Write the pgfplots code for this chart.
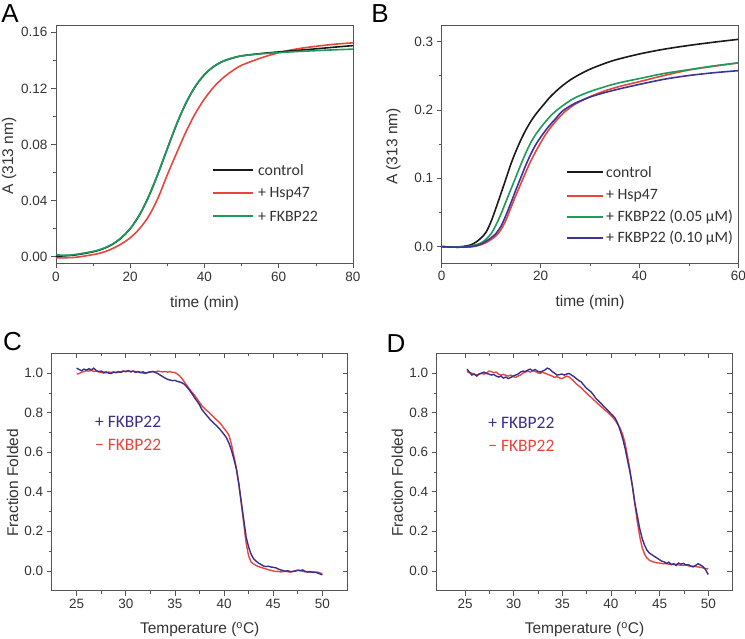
\documentclass[border=0pt]{standalone}
\usepackage{pgfplots}
\pgfplotsset{compat=1.18}
\usepackage{fontspec}
\setmainfont{Liberation Sans}
\newfontfamily\calib{Carlito}
\definecolor{frame}{HTML}{555555}
\definecolor{tickc}{HTML}{333333}
\definecolor{cblack}{HTML}{1A1A1A}
\definecolor{cred}{HTML}{E8453C}
\definecolor{cgreen}{HTML}{1E9A5A}
\definecolor{cpurple}{HTML}{3C3497}
\definecolor{cblue}{HTML}{3B2F8C}
\newcommand\tfont{\fontsize{13.5}{16}\selectfont}
\newcommand\lfont{\fontsize{15.5}{18}\selectfont}
\newcommand\gfont{\calib\fontsize{15.8}{18}\selectfont}
\newcommand\hfont{\calib\fontsize{17.5}{20}\selectfont}
\newcommand\pfont{\fontsize{26}{30}\selectfont}
\pgfplotsset{
 panel/.style={scale only axis, anchor=south west, clip=false,
  axis line style={draw=frame, line width=0.7pt},
  every tick/.style={draw=frame, line width=0.7pt},
  major tick length=5pt, minor tick length=3pt,
  tick align=outside, xtick pos=left, ytick pos=left,
  tick label style={font=\tfont, text=tickc},
  label style={font=\lfont, text=tickc},
  /pgf/number format/assume math mode=true,
  minor x tick num=1, minor y tick num=1},
 overlay/.style={scale only axis, anchor=south west,
  axis line style={draw=frame, line width=0.7pt},
  every tick/.style={draw=frame, line width=0.7pt},
  major tick length=5pt, minor tick length=3pt,
  tick align=inside, xtick pos=right, ytick pos=right,
  xticklabels={}, yticklabels={},
  minor x tick num=1, minor y tick num=1},
 kin/.style={line width=1.6pt, smooth},
 melt/.style={line width=1.4pt}
}
\begin{document}
\begin{tikzpicture}
\useasboundingbox (0pt,0pt) rectangle (745pt,-639pt);
% ---------------- Panel A
\begin{axis}[panel, at={(56pt,-263.3pt)}, width=297pt, height=238.3pt,
 xmin=0, xmax=80, ymin=-0.0047, ymax=0.1652,
 xtick={0,20,40,60,80}, ytick={0,0.04,0.08,0.12,0.16},
 yticklabel style={/pgf/number format/.cd, fixed, fixed zerofill, precision=2},
 xlabel={time (min)}, ylabel={A (313 nm)},
 xlabel style={at={(axis description cs:0.5,-0.168)}, anchor=center},
 ylabel style={at={(axis description cs:-0.158,0.45)}, anchor=center}]
\addplot[cred, kin] table {
0 -0.0008
5 -0.0005
10 0.0015
12.5 0.0030
15 0.0055
17.5 0.0090
20 0.0135
22.5 0.0200
25 0.0290
27.5 0.0420
30 0.0585
32.5 0.0740
35 0.0890
37.5 0.1020
40 0.1125
42.5 0.1210
45 0.1275
47.5 0.1325
50 0.1365
55 0.1415
60 0.1455
65 0.1482
70 0.1500
75 0.1515
80 0.1525
};
\addplot[cblack, kin] table {
0 0.0003
5 0.0012
10 0.0035
12.5 0.0055
15 0.0085
17.5 0.0132
20 0.0200
22.5 0.0298
25 0.0431
27.5 0.0593
30 0.0771
32.5 0.0945
35 0.1095
37.5 0.1213
40 0.1298
42.5 0.1356
45 0.1393
47.5 0.1416
50 0.1432
55 0.1448
60 0.1460
65 0.1471
70 0.1482
75 0.1494
80 0.1505
};
\addplot[cgreen, kin] table {
0 0.0015
2 0.0010
5 0.0015
10 0.0038
12.5 0.0057
15 0.0087
17.5 0.0134
20 0.0201
22.5 0.0299
25 0.0432
27.5 0.0594
30 0.0772
32.5 0.0946
35 0.1096
37.5 0.1214
40 0.1299
42.5 0.1357
45 0.1394
47.5 0.1417
50 0.1432
55 0.1446
60 0.1455
65 0.1463
70 0.1469
75 0.1475
80 0.1480
};
\node[anchor=west, inner sep=0pt, font=\gfont, text=tickc] at (rel axis cs:0.680,0.391) {control};
\node[anchor=west, inner sep=0pt, font=\gfont, text=tickc] at (rel axis cs:0.680,0.294) {+ Hsp47};
\node[anchor=west, inner sep=0pt, font=\gfont, text=tickc] at (rel axis cs:0.680,0.197) {+ FKBP22};
\end{axis}
\draw[draw=cblack, line width=2pt] (213pt,-170pt) -- (253pt,-170pt);
\draw[draw=cred, line width=2pt] (213pt,-193pt) -- (253pt,-193pt);
\draw[draw=cgreen, line width=2pt] (213pt,-216pt) -- (253pt,-216pt);
% ---------------- Panel B
\begin{axis}[panel, at={(441.7pt,-263pt)}, width=296.6pt, height=238pt,
 xmin=0, xmax=60, ymin=-0.0239, ymax=0.3244,
 xtick={0,20,40,60}, ytick={0,0.1,0.2,0.3},
 yticklabel style={/pgf/number format/.cd, fixed, fixed zerofill, precision=1},
 xlabel={time (min)}, ylabel={A (313 nm)},
 xlabel style={at={(axis description cs:0.5,-0.168)}, anchor=center},
 ylabel style={at={(axis description cs:-0.163,0.489)}, anchor=center}]
\addplot[cblack, kin] table {
0 0
3 -0.0005
5 0.0010
6 0.0030
7 0.0070
8 0.0130
9 0.0215
10 0.0370
11 0.0570
12 0.0780
13 0.0995
14 0.1210
15 0.1395
16 0.1560
17 0.1705
18 0.1830
19 0.1935
20 0.2025
22 0.2195
24 0.2330
26 0.2440
28 0.2525
30 0.2597
32 0.2655
35 0.2730
40 0.2820
45 0.2890
50 0.2945
55 0.2992
60 0.3034
};
\addplot[cred, kin] table {
0 0
3 -0.0008
5 -0.0005
6 0.0000
7 0.0010
8 0.0030
9 0.0060
10 0.0105
11 0.0160
12 0.0250
13 0.0390
14 0.0570
15 0.0750
16 0.0920
17 0.1090
18 0.1250
19 0.1390
20 0.1520
21 0.1640
22 0.1740
23 0.1830
24 0.1910
25 0.1980
27 0.2085
30 0.2195
33 0.2280
36 0.2345
40 0.2415
45 0.2505
50 0.2585
55 0.2640
60 0.2690
};
\addplot[cgreen, kin] table {
0 0
3 -0.0005
5 0.0000
6 0.0010
7 0.0030
8 0.0055
9 0.0110
10 0.0190
11 0.0320
12 0.0480
13 0.0660
14 0.0840
15 0.1020
16 0.1200
17 0.1370
18 0.1520
19 0.1640
20 0.1740
21 0.1830
22 0.1910
23 0.1980
25 0.2090
27 0.2180
30 0.2270
33 0.2340
36 0.2400
40 0.2460
45 0.2535
50 0.2590
55 0.2645
60 0.2690
};
\addplot[cpurple, kin] table {
0 0
3 -0.0008
5 -0.0004
6 0.0000
7 0.0015
8 0.0040
9 0.0080
10 0.0130
11 0.0195
12 0.0300
13 0.0460
14 0.0640
15 0.0830
16 0.1010
17 0.1190
18 0.1350
19 0.1490
20 0.1600
21 0.1700
22 0.1790
23 0.1870
24 0.1955
25 0.2015
27 0.2100
30 0.2190
33 0.2255
36 0.2310
40 0.2375
45 0.2450
50 0.2505
55 0.2545
60 0.2576
};
\node[anchor=west, inner sep=0pt, font=\gfont, text=tickc] at (rel axis cs:0.554,0.381) {control};
\node[anchor=west, inner sep=0pt, font=\gfont, text=tickc] at (rel axis cs:0.554,0.283) {+ Hsp47};
\node[anchor=west, inner sep=0pt, font=\gfont, text=tickc] at (rel axis cs:0.554,0.195) {+ FKBP22 (0.05 µM)};
\node[anchor=west, inner sep=0pt, font=\gfont, text=tickc] at (rel axis cs:0.554,0.106) {+ FKBP22 (0.10 µM)};
\end{axis}
\draw[draw=cblack, line width=2pt] (567pt,-172pt) -- (603pt,-172pt);
\draw[draw=cred, line width=2pt] (567pt,-196pt) -- (603pt,-196pt);
\draw[draw=cgreen, line width=2pt] (567pt,-217pt) -- (603pt,-217pt);
\draw[draw=cpurple, line width=2pt] (567pt,-238pt) -- (603pt,-238pt);
% ---------------- Panel C
\begin{axis}[overlay, at={(51.7pt,-590.7pt)}, width=296pt, height=237.4pt,
 xmin=22.46, xmax=52.58, ymin=-0.1, ymax=1.1,
 xtick={25,30,35,40,45,50}, ytick={0,0.2,0.4,0.6,0.8,1.0}]
\end{axis}
\begin{axis}[panel, at={(51.7pt,-590.7pt)}, width=296pt, height=237.4pt,
 xmin=22.46, xmax=52.58, ymin=-0.1, ymax=1.1,
 xtick={25,30,35,40,45,50}, ytick={0,0.2,0.4,0.6,0.8,1.0},
 yticklabel style={/pgf/number format/.cd, fixed, fixed zerofill, precision=1},
 xlabel={Temperature (\textsuperscript{o}C)}, ylabel={Fraction Folded},
 xlabel style={at={(axis description cs:0.5,-0.1655)}, anchor=center},
 ylabel style={at={(axis description cs:-0.132,0.454)}, anchor=center}]
\addplot[cred, melt] table {
25.0 0.995
25.25 0.998
25.5 1.004
25.75 1.008
26.0 1.012
26.25 1.010
26.5 1.014
26.75 1.008
27.0 1.010
27.25 1.006
27.5 1.004
27.75 1.000
28.0 1.002
28.25 1.005
28.5 1.003
28.75 1.006
29.0 1.004
29.25 1.008
29.5 1.006
29.75 1.010
30.0 1.007
30.25 1.012
30.5 1.008
30.75 1.010
31.0 1.006
31.25 1.008
31.5 1.004
31.75 1.000
32.0 0.998
32.25 1.002
32.5 1.006
32.75 1.008
33.0 1.006
33.25 1.010
33.5 1.008
33.75 1.006
34.0 1.008
34.25 1.005
34.5 1.007
34.75 1.004
35.0 1.003
35.25 0.995
35.5 0.985
35.75 0.970
36.0 0.952
36.25 0.935
36.5 0.918
36.75 0.902
37.0 0.888
37.25 0.870
37.5 0.852
37.75 0.835
38.0 0.822
38.25 0.810
38.5 0.800
38.75 0.787
39.0 0.775
39.25 0.763
39.5 0.752
39.75 0.738
40.0 0.720
40.25 0.705
40.5 0.685
40.75 0.640
41.0 0.580
41.25 0.520
41.5 0.440
41.75 0.340
42.0 0.240
42.25 0.140
42.5 0.075
42.75 0.045
43.0 0.035
43.25 0.028
43.5 0.022
43.75 0.018
44.0 0.014
44.25 0.010
44.5 0.006
44.75 0.003
45.0 0.000
45.25 -0.003
45.5 -0.002
45.75 -0.005
46.0 -0.004
46.25 -0.001
46.5 -0.004
46.75 -0.006
47.0 -0.002
47.25 0.001
47.5 0.004
47.75 0.002
48.0 -0.002
48.25 -0.005
48.5 -0.003
48.75 -0.007
49.0 -0.004
49.25 -0.008
49.5 -0.006
49.75 -0.010
50.0 -0.014
};
\addplot[cblue, melt] table {
25.0 1.025
25.25 1.018
25.5 1.012
25.75 1.020
26.0 1.015
26.25 1.022
26.5 1.016
26.75 1.025
27.0 1.012
27.25 1.008
27.5 1.010
27.75 1.004
28.0 1.006
28.25 1.000
28.5 0.998
28.75 1.004
29.0 1.002
29.25 1.006
29.5 1.004
29.75 1.010
30.0 1.008
30.25 1.012
30.5 1.006
30.75 1.010
31.0 1.004
31.25 1.007
31.5 1.002
31.75 1.006
32.0 1.000
32.25 1.004
32.5 1.006
32.75 1.008
33.0 1.003
33.25 0.998
33.5 0.990
33.75 0.982
34.0 0.975
34.25 0.968
34.5 0.965
34.75 0.962
35.0 0.963
35.25 0.958
35.5 0.955
35.75 0.950
36.0 0.942
36.25 0.928
36.5 0.912
36.75 0.895
37.0 0.875
37.25 0.858
37.5 0.840
37.75 0.815
38.0 0.800
38.25 0.785
38.5 0.770
38.75 0.757
39.0 0.745
39.25 0.733
39.5 0.720
39.75 0.705
40.0 0.690
40.25 0.672
40.5 0.645
40.75 0.610
41.0 0.565
41.25 0.515
41.5 0.440
41.75 0.350
42.0 0.260
42.25 0.170
42.5 0.120
42.75 0.085
43.0 0.062
43.25 0.050
43.5 0.040
43.75 0.033
44.0 0.025
44.25 0.022
44.5 0.024
44.75 0.020
45.0 0.018
45.25 0.016
45.5 0.010
45.75 0.005
46.0 0.002
46.25 -0.002
46.5 0.001
46.75 -0.004
47.0 -0.003
47.25 -0.001
47.5 0.003
47.75 0.001
48.0 0.005
48.25 -0.002
48.5 -0.006
48.75 -0.003
49.0 -0.008
49.25 -0.006
49.5 -0.010
49.75 -0.015
50.0 -0.020
};
\node[anchor=west, inner sep=0pt, font=\hfont, text=cblue] at (rel axis cs:0.146,0.711) {+ FKBP22};
\node[anchor=west, inner sep=0pt, font=\hfont, text=cred] at (rel axis cs:0.146,0.614) {− FKBP22};
\end{axis}
% ---------------- Panel D
\begin{axis}[overlay, at={(436.7pt,-590.7pt)}, width=295.6pt, height=237.4pt,
 xmin=22.09, xmax=52.47, ymin=-0.1, ymax=1.1,
 xtick={25,30,35,40,45,50}, ytick={0,0.2,0.4,0.6,0.8,1.0}]
\end{axis}
\begin{axis}[panel, at={(436.7pt,-590.7pt)}, width=295.6pt, height=237.4pt,
 xmin=22.09, xmax=52.47, ymin=-0.1, ymax=1.1,
 xtick={25,30,35,40,45,50}, ytick={0,0.2,0.4,0.6,0.8,1.0},
 yticklabel style={/pgf/number format/.cd, fixed, fixed zerofill, precision=1},
 xlabel={Temperature (\textsuperscript{o}C)}, ylabel={Fraction Folded},
 xlabel style={at={(axis description cs:0.5,-0.1655)}, anchor=center},
 ylabel style={at={(axis description cs:-0.133,0.454)}, anchor=center}]
\addplot[cred, melt] table {
25.2 1.008
25.45 1.002
25.7 1.000
25.95 0.994
26.2 0.990
26.45 0.996
26.7 0.998
26.95 0.995
27.2 1.000
27.45 1.010
27.7 1.008
27.95 1.002
28.2 1.005
28.45 0.995
28.7 0.990
28.95 0.994
29.2 0.988
29.45 0.985
29.7 0.990
29.95 0.982
30.2 0.978
30.45 0.985
30.7 0.990
30.95 1.000
31.2 1.005
31.45 1.010
31.7 1.005
31.95 1.012
32.2 1.008
32.45 1.002
32.7 0.998
32.95 1.004
33.2 1.000
33.45 0.995
33.7 0.990
33.95 0.985
34.2 0.978
34.45 0.982
34.7 0.976
34.95 0.972
35.2 0.978
35.45 0.985
35.7 0.980
35.95 0.970
36.2 0.958
36.45 0.945
36.7 0.935
36.95 0.925
37.2 0.912
37.45 0.900
37.7 0.888
37.95 0.878
38.2 0.866
38.45 0.855
38.7 0.843
38.95 0.832
39.2 0.822
39.45 0.810
39.7 0.800
39.95 0.788
40.2 0.775
40.45 0.760
40.7 0.740
40.95 0.720
41.2 0.690
41.45 0.645
41.7 0.580
41.95 0.510
42.2 0.430
42.45 0.340
42.7 0.250
42.95 0.175
43.2 0.120
43.45 0.085
43.7 0.065
43.95 0.054
44.2 0.048
44.45 0.044
44.7 0.041
44.95 0.040
45.2 0.038
45.45 0.036
45.7 0.037
45.95 0.034
46.2 0.033
46.45 0.032
46.7 0.034
46.95 0.030
47.2 0.029
47.45 0.028
47.7 0.030
47.95 0.026
48.2 0.024
48.45 0.025
48.7 0.022
48.95 0.020
49.2 0.018
49.45 0.016
49.7 0.012
50.0 0.010
};
\addplot[cblue, melt] table {
25.2 1.020
25.45 1.005
25.7 0.990
25.95 0.995
26.2 0.985
26.45 0.995
26.7 1.000
26.95 1.005
27.2 0.998
27.45 0.995
27.7 0.990
27.95 0.993
28.2 0.985
28.45 0.980
28.7 0.985
28.95 0.975
29.2 0.980
29.45 0.972
29.7 0.978
29.95 0.985
30.2 0.990
30.45 0.995
30.7 1.005
30.95 1.010
31.2 1.008
31.45 1.015
31.7 1.020
31.95 1.012
32.2 1.018
32.45 1.010
32.7 1.005
32.95 1.010
33.2 1.015
33.45 1.025
33.7 1.020
33.95 1.008
34.2 1.000
34.45 0.990
34.7 0.992
34.95 0.995
35.2 0.990
35.45 0.995
35.7 0.998
35.95 0.990
36.2 0.982
36.45 0.972
36.7 0.962
36.95 0.955
37.2 0.940
37.45 0.925
37.7 0.915
37.95 0.905
38.2 0.890
38.45 0.872
38.7 0.860
38.95 0.848
39.2 0.835
39.45 0.823
39.7 0.810
39.95 0.797
40.2 0.785
40.45 0.770
40.7 0.745
40.95 0.710
41.2 0.670
41.45 0.620
41.7 0.560
41.95 0.500
42.2 0.430
42.45 0.345
42.7 0.280
42.95 0.215
43.2 0.165
43.45 0.130
43.7 0.105
43.95 0.090
44.2 0.082
44.45 0.074
44.7 0.066
44.95 0.058
45.2 0.050
45.45 0.046
45.7 0.038
45.95 0.044
46.2 0.032
46.45 0.036
46.7 0.028
46.95 0.040
47.2 0.034
47.45 0.038
47.7 0.030
47.95 0.032
48.2 0.024
48.45 0.020
48.7 0.028
48.95 0.036
49.2 0.030
49.45 0.022
49.7 0.008
50.0 -0.018
};
\node[anchor=west, inner sep=0pt, font=\hfont, text=cblue] at (rel axis cs:0.174,0.706) {+ FKBP22};
\node[anchor=west, inner sep=0pt, font=\hfont, text=cred] at (rel axis cs:0.174,0.610) {− FKBP22};
\end{axis}
% panel letters
\node[font=\pfont, text=black, anchor=center] at (10pt,-14pt) {A};
\node[font=\pfont, text=black, anchor=center] at (380pt,-13.5pt) {B};
\node[font=\pfont, text=black, anchor=center] at (12.5pt,-342pt) {C};
\node[font=\pfont, text=black, anchor=center] at (396pt,-344pt) {D};
\end{tikzpicture}
\end{document}
